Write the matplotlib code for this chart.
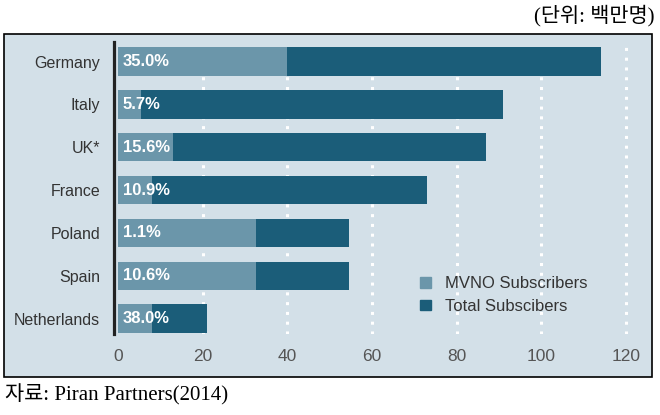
import matplotlib.pyplot as plt
from matplotlib.patches import Patch, Rectangle

# data (millions of subscribers)
countries = ['Germany', 'Italy', 'UK*', 'France', 'Poland', 'Spain', 'Netherlands']
total = [114, 91, 87, 73, 54.5, 54.5, 21]
mvno = [40, 5.5, 13, 8, 32.5, 32.5, 8]
share_labels = ['35.0%', '5.7%', '15.6%', '10.9%', '1.1%', '10.6%', '38.0%']
xticks = [0, 20, 40, 60, 80, 100, 120]

bg = '#d3e0e8'
light = '#6b96aa'
dark = '#1b5d79'
W, H = 660, 415

plt.rcParams['font.family'] = ['Liberation Sans', 'DejaVu Sans']

fig = plt.figure(figsize=(6.6, 4.15), dpi=100)
fig.patch.set_facecolor('white')
fig.patches.append(Rectangle((4 / W, 1 - 377 / H), 648 / W, 343 / H, transform=fig.transFigure,
                             facecolor=bg, edgecolor='black', linewidth=1.2, zorder=-1))

ax = fig.add_axes([114 / W, 1 - 334 / H, (645 - 114) / W, (334 - 42) / H])
ax.set_facecolor('none')

ypos = list(range(len(countries)))
ax.barh(ypos, total, height=0.66, color=dark, zorder=2)
ax.barh(ypos, mvno, height=0.66, color=light, zorder=3)

for y, lab in zip(ypos, share_labels):
    ax.annotate(lab, (0, y), xytext=(3.5, 0), textcoords='offset points',
                color='white', fontsize=12, fontweight='bold', va='center', ha='left', zorder=4)

ax.set_xlim(-0.94, 124.5)
ax.set_ylim(6.36, -0.456)
ax.set_xticks(xticks)
ax.set_yticks(ypos)
ax.set_yticklabels(countries)
ax.tick_params(axis='x', length=0, pad=11, labelsize=12.5, labelcolor='#555555')
ax.tick_params(axis='y', length=0, pad=10, labelsize=11.5, labelcolor='#333333')

for x in xticks[1:]:
    ax.axvline(x, color='white', linestyle=(0, (1, 2.2)), linewidth=2.2, zorder=1)

for s in ['top', 'right', 'bottom']:
    ax.spines[s].set_visible(False)
ax.spines['left'].set_color('#222222')
ax.spines['left'].set_linewidth(2.3)

handles = [Patch(color=light, label='MVNO Subscribers'),
           Patch(color=dark, label='Total Subscibers')]
fig.legend(handles=handles, loc='center left', bbox_to_anchor=(420 / W, 1 - 295 / H),
           frameon=False, fontsize=12, handlelength=0.65, handleheight=0.6,
           handletextpad=0.85, labelspacing=0.45, borderpad=0, borderaxespad=0,
           labelcolor='#333333')

kfont = ['Liberation Serif', 'Noto Sans CJK KR']
fig.text(655 / W, 1 - 16 / H, '(단위: 백만명)', ha='right', va='center', fontsize=15, family=kfont)
fig.text(5 / W, 1 - 395 / H, '자료: Piran Partners(2014)', ha='left', va='center', fontsize=15, family=kfont)

fig.savefig('out.png', dpi=100)
